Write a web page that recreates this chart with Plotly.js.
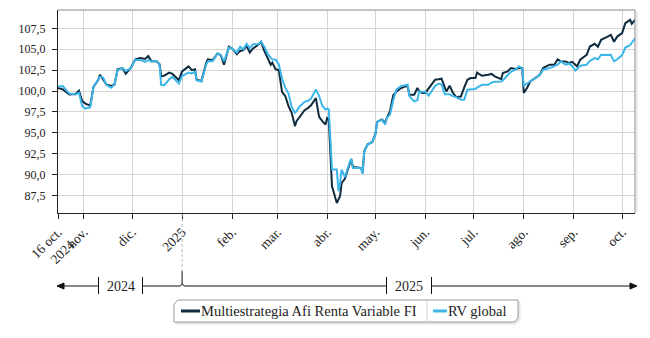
<!DOCTYPE html>
<html>
<head>
<meta charset="utf-8">
<script src="https://cdn.plot.ly/plotly-3.0.1.min.js"></script>
<style>html,body{margin:0;padding:0;background:#fff;}#chart{width:650px;height:338px;}</style>
</head>
<body>
<div id="chart"></div>
<script>
const seriesNames = ['Multiestrategia Afi Renta Variable FI', 'RV global'];

const dates = [
'2024-10-16','2024-10-19','2024-10-23','2024-10-27','2024-10-29','2024-10-31',
'2024-11-02','2024-11-05','2024-11-07','2024-11-10','2024-11-11','2024-11-13','2024-11-15','2024-11-18','2024-11-20','2024-11-22','2024-11-25','2024-11-27','2024-11-30',
'2024-12-03','2024-12-06','2024-12-09','2024-12-11','2024-12-13','2024-12-16','2024-12-18','2024-12-19','2024-12-21','2024-12-24','2024-12-26','2024-12-29','2024-12-30',
'2025-01-01','2025-01-05','2025-01-07','2025-01-09','2025-01-10','2025-01-13','2025-01-16','2025-01-17','2025-01-20','2025-01-23','2025-01-25','2025-01-27','2025-01-30',
'2025-02-01','2025-02-04','2025-02-06','2025-02-08','2025-02-10','2025-02-12','2025-02-14','2025-02-17','2025-02-19','2025-02-21','2025-02-23','2025-02-25','2025-02-26','2025-02-28',
'2025-03-02','2025-03-04','2025-03-06','2025-03-08','2025-03-10','2025-03-12','2025-03-13','2025-03-15','2025-03-18','2025-03-20','2025-03-22','2025-03-25','2025-03-27','2025-03-29','2025-03-31',
'2025-04-01','2025-04-02','2025-04-04','2025-04-07','2025-04-08','2025-04-09','2025-04-10','2025-04-12','2025-04-15','2025-04-16','2025-04-17','2025-04-22','2025-04-23','2025-04-24','2025-04-26','2025-04-29',
'2025-05-01','2025-05-02','2025-05-05','2025-05-07','2025-05-08','2025-05-10','2025-05-12','2025-05-14','2025-05-17','2025-05-20','2025-05-21','2025-05-22','2025-05-25','2025-05-27','2025-05-28','2025-05-30',
'2025-06-01','2025-06-03','2025-06-05','2025-06-07','2025-06-09','2025-06-11','2025-06-13','2025-06-14','2025-06-16','2025-06-18','2025-06-20','2025-06-23','2025-06-25','2025-06-27','2025-06-29',
'2025-07-02','2025-07-03','2025-07-06','2025-07-10','2025-07-12','2025-07-14','2025-07-18','2025-07-19','2025-07-22','2025-07-24','2025-07-27','2025-07-29','2025-07-31',
'2025-08-01','2025-08-03','2025-08-05','2025-08-08','2025-08-11','2025-08-13','2025-08-17','2025-08-20','2025-08-22','2025-08-24','2025-08-27','2025-08-29','2025-08-31',
'2025-09-02','2025-09-03','2025-09-05','2025-09-09','2025-09-11','2025-09-14','2025-09-16','2025-09-18','2025-09-22','2025-09-24','2025-09-26','2025-09-28',
'2025-10-01','2025-10-03','2025-10-06','2025-10-07','2025-10-09'
];

const fundValues = [
100.36,100.2,99.6,99.65,100.05,98.8,
98.5,98.25,100.5,101.35,101.95,101.35,100.8,100.6,100.75,102.6,102.75,102.07,102.75,
103.8,103.95,103.85,104.2,103.55,103.6,103.2,101.75,101.85,102.2,102.05,101.4,101.3,
102.35,102.95,102.5,102.6,101.35,101.2,103.4,103.8,103.7,104.5,104.3,103.15,105.3,
105.1,104.4,104.8,104.9,105.4,104.6,105.1,105.5,105.9,104.8,103.95,103.15,103.4,102.6,
102.5,99.9,99.4,98.2,97.4,95.8,96.4,96.97,97.7,97.95,98.3,99.16,96.9,96.4,96.0,
96.77,96.6,88.6,86.6,87.0,87.4,89.0,89.5,91.3,91.8,90.9,90.8,90.2,92.8,93.6,93.9,
94.9,96.3,96.6,96.2,96.77,97.6,99.5,99.95,100.36,100.6,100.5,99.56,99.56,100.36,100.0,99.76,
99.8,100.3,100.9,101.35,101.4,101.47,100.4,99.95,100.63,99.8,99.28,99.35,100.4,101.35,101.55,
101.55,102.2,101.83,101.95,102.05,101.75,101.43,102.15,102.34,102.75,102.63,102.75,102.75,
99.76,100.36,101.15,101.55,101.95,102.75,103.15,103.15,103.8,103.55,103.55,103.35,103.5,
103.15,102.95,103.75,104.34,105.33,105.65,105.3,106.13,106.52,106.73,105.9,106.52,
106.93,108.12,108.52,108.04,108.52
];

const benchValues = [
100.55,100.6,99.7,99.6,99.8,98.2,
97.9,98.05,100.5,101.3,101.7,101.6,100.75,100.4,100.75,102.5,102.75,102.4,102.7,
103.75,103.7,103.5,103.7,103.55,103.6,103.15,100.75,100.7,101.4,101.7,101.15,100.9,
101.8,102.2,102.1,102.3,101.3,101.15,103.2,103.55,103.6,104.5,104.35,103.55,105.2,
105.1,104.6,105.3,105.0,105.65,105.1,105.6,105.6,105.9,105.3,104.5,103.95,103.8,103.75,
103.2,101.5,100.4,99.7,98.1,97.4,97.6,98.16,98.7,98.8,99.1,100.2,99.4,98.2,97.8,
97.9,97.8,90.6,90.6,88.0,89.0,90.6,89.7,91.5,91.9,90.8,90.8,90.1,92.7,93.6,93.9,
94.8,96.3,96.55,96.0,96.77,97.2,98.9,100.2,100.6,100.7,100.75,99.4,98.76,98.9,99.95,99.9,
99.9,99.45,100.1,100.6,100.87,100.8,99.6,99.6,99.6,99.4,99.28,98.96,98.96,100.15,100.2,
100.24,100.4,100.75,100.75,101.03,101.1,101.15,101.3,101.95,102.3,102.6,102.95,102.75,
100.63,100.9,101.2,101.55,101.95,102.55,102.75,103.0,103.15,103.55,103.15,103.3,103.0,
102.46,102.6,103.02,103.15,103.6,103.95,103.8,104.34,104.3,104.34,103.55,103.8,
104.3,105.2,105.5,105.8,106.3
];

const tickDates = ['2024-10-16','2024-11-01','2024-12-01','2025-01-01','2025-02-01','2025-03-01','2025-04-01','2025-05-01','2025-06-01','2025-07-01','2025-08-01','2025-09-01','2025-10-01'];
const tickLabels = ['16 oct.<br>2024','nov.','dic.','2025','feb.','mar.','abr.','may.','jun.','jul.','ago.','sep.','oct.'];
const yearLabels = ['2024','2025'];

const colors = ['#0f2b3d', '#3cb6ea'];
const FONT = "'Liberation Serif', serif";

// pixel helpers for decorations outside plot area
const L = 58, T = 10, W = 577, H = 203;
const px = x => (x - L) / W;
const py = y => (T + H - y) / H;

const traces = [
  {x: dates, y: fundValues, name: seriesNames[0], type: 'scatter', mode: 'lines',
   line: {color: colors[0], width: 2}, showlegend: false},
  {x: dates, y: benchValues, name: seriesNames[1], type: 'scatter', mode: 'lines',
   line: {color: colors[1], width: 2}, showlegend: false}
];

const ly = 286;
const shapes = [
  {type:'line', xref:'paper', yref:'paper', x0:0, x1:1, y0:1, y1:1, line:{color:'#8a8a8a', width:1}},
  {type:'line', xref:'paper', yref:'paper', x0:1, x1:1, y0:0, y1:1, line:{color:'#8a8a8a', width:1}},
  {type:'line', xref:'paper', yref:'paper', x0:px(637), x1:px(637), y0:py(212), y1:py(12), line:{color:'#ececec', width:2}},
  {type:'line', xref:'x', yref:'paper', x0:'2025-01-01', x1:'2025-01-01', y0:py(214), y1:py(271), line:{color:'#bdbdbd', width:1, dash:'3px,2px'}},
  {type:'line', xref:'x', yref:'paper', x0:'2025-01-01', x1:'2025-01-01', y0:py(271), y1:py(284), line:{color:'#111', width:1}},
  {type:'line', xref:'paper', yref:'paper', x0:px(62), x1:px(98.5), y0:py(ly), y1:py(ly), line:{color:'#111', width:1}},
  {type:'line', xref:'paper', yref:'paper', x0:px(98.5), x1:px(98.5), y0:py(277), y1:py(294), line:{color:'#111', width:1}},
  {type:'line', xref:'paper', yref:'paper', x0:px(142.5), x1:px(142.5), y0:py(277), y1:py(294), line:{color:'#111', width:1}},
  {type:'line', xref:'paper', yref:'paper', x0:px(142.5), x1:px(180.5), y0:py(ly), y1:py(ly), line:{color:'#111', width:1}},
  {type:'path', xref:'paper', yref:'paper', path:`M${px(180.5)},${py(ly)} L${px(182.3)},${py(283.8)} L${px(184.1)},${py(ly)}`, line:{color:'#111', width:1}},
  {type:'line', xref:'paper', yref:'paper', x0:px(184.1), x1:px(386.5), y0:py(ly), y1:py(ly), line:{color:'#111', width:1}},
  {type:'line', xref:'paper', yref:'paper', x0:px(386.5), x1:px(386.5), y0:py(277), y1:py(294), line:{color:'#111', width:1}},
  {type:'line', xref:'paper', yref:'paper', x0:px(431.5), x1:px(431.5), y0:py(277), y1:py(294), line:{color:'#111', width:1}},
  {type:'line', xref:'paper', yref:'paper', x0:px(431.5), x1:px(632), y0:py(ly), y1:py(ly), line:{color:'#111', width:1}},
  {type:'path', xref:'paper', yref:'paper', path:`M${px(57)},${py(ly)} L${px(64)},${py(ly-3)} L${px(64)},${py(ly+3)} Z`, fillcolor:'#111', line:{color:'#111', width:1}},
  {type:'path', xref:'paper', yref:'paper', path:`M${px(637)},${py(ly)} L${px(630)},${py(ly-3)} L${px(630)},${py(ly+3)} Z`, fillcolor:'#111', line:{color:'#111', width:1}},
  {type:'path', xref:'paper', yref:'paper', path:`M${px(178)},${py(302)} L${px(520)},${py(302)} L${px(520)},${py(320)} L${px(516)},${py(324)} L${px(176)},${py(324)} L${px(176)},${py(306)} Z`, fillcolor:'#e6e6e6', line:{color:'#e6e6e6', width:1}},
  {type:'path', xref:'paper', yref:'paper', path:`M${px(178)},${py(300)} L${px(518)},${py(300)} L${px(518)},${py(318)} L${px(514)},${py(322)} L${px(174)},${py(322)} L${px(174)},${py(304)} Z`, fillcolor:'#ffffff', line:{color:'#9a9a9a', width:1}},
  {type:'line', xref:'paper', yref:'paper', x0:px(427), x1:px(427), y0:py(300), y1:py(322), line:{color:'#cfcfcf', width:1}},
  {type:'line', xref:'paper', yref:'paper', x0:px(181), x1:px(200), y0:py(311), y1:py(311), line:{color:colors[0], width:3}},
  {type:'line', xref:'paper', yref:'paper', x0:px(433), x1:px(447), y0:py(311), y1:py(311), line:{color:colors[1], width:3}}
];

const annotations = [
  {xref:'paper', yref:'paper', x:px(120.5), y:py(ly), text:yearLabels[0], showarrow:false, xanchor:'center', yanchor:'middle', font:{family:FONT, size:14, color:'#222'}},
  {xref:'paper', yref:'paper', x:px(409), y:py(ly), text:yearLabels[1], showarrow:false, xanchor:'center', yanchor:'middle', font:{family:FONT, size:14, color:'#222'}},
  {xref:'paper', yref:'paper', x:px(199), y:py(311), text:seriesNames[0], showarrow:false, xanchor:'left', yanchor:'middle', font:{family:FONT, size:14.5, color:'#222'}},
  {xref:'paper', yref:'paper', x:px(446), y:py(311), text:seriesNames[1], showarrow:false, xanchor:'left', yanchor:'middle', font:{family:FONT, size:14.5, color:'#222'}}
];

const layout = {
  width: 650, height: 338,
  margin: {l: L, r: 650 - L - W, t: T, b: 338 - T - H, pad: 0},
  paper_bgcolor: '#ffffff', plot_bgcolor: '#ffffff',
  separators: ',.',
  font: {family: FONT, size: 11, color: '#222'},
  showlegend: false,
  xaxis: {
    type: 'date', range: ['2024-10-16', '2025-10-09'],
    tickmode: 'array', tickvals: tickDates, ticktext: tickLabels, tickangle: -45,
    ticks: 'outside', ticklen: 5, tickcolor: '#222', tickwidth: 1,
    showgrid: true, gridcolor: '#d6d6d6', gridwidth: 1,
    showline: true, linecolor: '#222', linewidth: 1, zeroline: false,
    tickfont: {family: FONT, size: 13.5, color: '#222'}
  },
  yaxis: {
    range: [85.4, 109.7], tick0: 87.5, dtick: 2.5, tickformat: '.1f',
    ticks: 'outside', ticklen: 5, tickcolor: '#222', tickwidth: 1, ticklabelstandoff: 4,
    showgrid: true, gridcolor: '#d6d6d6', gridwidth: 1,
    showline: true, linecolor: '#222', linewidth: 1, zeroline: false,
    tickfont: {family: FONT, size: 12, color: '#222'}
  },
  shapes: shapes,
  annotations: annotations
};

Plotly.newPlot('chart', traces, layout, {staticPlot: true, displayModeBar: false});
</script>
</body>
</html>
